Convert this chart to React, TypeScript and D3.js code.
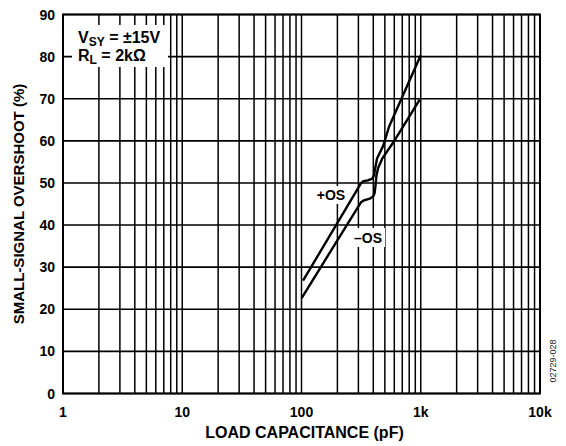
import React, { useRef, useEffect } from 'react'
import * as d3 from 'd3'

// values (load capacitance pF, overshoot %)
const plusOS: [number, number][] = [
  [103, 26.8], [315, 49.9], [330, 50.4], [360, 50.6], [392, 51.0], [405, 51.8],
  [415, 53.5], [430, 55.8], [484, 58.8], [543, 63.4], [1000, 80.3],
]
const minusOS: [number, number][] = [
  [100, 22.6], [315, 45.4], [335, 45.9], [370, 46.2], [399, 46.8], [410, 47.6],
  [418, 49.5], [425, 51.8], [440, 53.6], [478, 55.9], [607, 60.2], [980, 69.8],
]
const xTickValues = [1, 10, 100, 1000, 10000]
const xTickLabels = ['1', '10', '100', '1k', '10k']
const yTickValues = [0, 10, 20, 30, 40, 50, 60, 70, 80, 90]

const width = 566
const height = 446
const margin = { top: 14.5, right: 26, bottom: 52.5, left: 63 }
const font = 'Liberation Sans, Arial, Helvetica, sans-serif'

const App = () => {
  const svgRef = useRef<SVGSVGElement>(null)

  useEffect(() => {
    const svg = d3.select(svgRef.current)
    svg.selectAll('*').remove()

    const x = d3.scaleLog().domain([1, 10000]).range([margin.left, width - margin.right])
    const y = d3.scaleLinear().domain([0, 90]).range([height - margin.bottom, margin.top])

    // minor + major vertical grid
    const vGrid: number[] = []
    for (let k = 0; k < 4; k++) for (let m = 1; m < 10; m++) vGrid.push(m * Math.pow(10, k))
    svg.append('g')
      .selectAll('line')
      .data(vGrid)
      .join('line')
      .attr('x1', d => x(d)).attr('x2', d => x(d))
      .attr('y1', y(0)).attr('y2', y(90))
      .attr('stroke', '#000')
      .attr('stroke-width', 1.5)

    svg.append('g')
      .selectAll('line')
      .data(yTickValues)
      .join('line')
      .attr('x1', x(1)).attr('x2', x(10000))
      .attr('y1', d => y(d)).attr('y2', d => y(d))
      .attr('stroke', '#000')
      .attr('stroke-width', 1.6)

    // frame
    svg.append('rect')
      .attr('x', x(1)).attr('y', y(90))
      .attr('width', x(10000) - x(1)).attr('height', y(0) - y(90))
      .attr('fill', 'none')
      .attr('stroke', '#000')
      .attr('stroke-width', 2)

    // white label backgrounds
    svg.append('rect').attr('x', 72).attr('y', 25).attr('width', 96).attr('height', 42).attr('fill', '#fff')
    svg.append('rect').attr('x', 314).attr('y', 186).attr('width', 34).attr('height', 18).attr('fill', '#fff')
    svg.append('rect').attr('x', 352).attr('y', 228).attr('width', 33).attr('height', 19).attr('fill', '#fff')

    const line = d3.line<[number, number]>()
      .x(d => x(d[0]))
      .y(d => y(d[1]))

    for (const series of [plusOS, minusOS]) {
      svg.append('path')
        .datum(series)
        .attr('fill', 'none')
        .attr('stroke', '#000')
        .attr('stroke-width', 2.4)
        .attr('stroke-linejoin', 'round')
        .attr('d', line)
    }

    // tick labels
    svg.append('g')
      .selectAll('text')
      .data(yTickValues)
      .join('text')
      .attr('x', x(1) - 8)
      .attr('y', d => y(d))
      .attr('dy', '0.36em')
      .attr('text-anchor', 'end')
      .attr('font-family', font)
      .attr('font-weight', 'bold')
      .attr('font-size', 14)
      .text(d => d)

    svg.append('g')
      .selectAll('text')
      .data(xTickValues)
      .join('text')
      .attr('x', d => x(d))
      .attr('y', y(0) + 23.5)
      .attr('text-anchor', 'middle')
      .attr('font-family', font)
      .attr('font-weight', 'bold')
      .attr('font-size', 14)
      .text((d, i) => xTickLabels[i])

    // axis titles
    svg.append('text')
      .attr('x', (x(1) + x(10000)) / 2 + 3)
      .attr('y', 438)
      .attr('text-anchor', 'middle')
      .attr('font-family', font)
      .attr('font-weight', 'bold')
      .attr('font-size', 16)
      .text('LOAD CAPACITANCE (pF)')

    svg.append('text')
      .attr('transform', `translate(24,${(y(0) + y(90)) / 2}) rotate(-90)`)
      .attr('text-anchor', 'middle')
      .attr('font-family', font)
      .attr('font-weight', 'bold')
      .attr('font-size', 15)
      .text('SMALL-SIGNAL OVERSHOOT (%)')

    // conditions box
    const t1 = svg.append('text').attr('x', 78).attr('y', 43)
      .attr('font-family', font).attr('font-weight', 'bold').attr('font-size', 16)
    t1.append('tspan').text('V')
    t1.append('tspan').attr('font-size', 12).attr('dy', 3).text('SY')
    t1.append('tspan').attr('dy', -3).text(' = ±15V')

    const t2 = svg.append('text').attr('x', 78).attr('y', 61)
      .attr('font-family', font).attr('font-weight', 'bold').attr('font-size', 16)
    t2.append('tspan').text('R')
    t2.append('tspan').attr('font-size', 12).attr('dy', 3).text('L')
    t2.append('tspan').attr('dy', -3).text(' = 2kΩ')

    // series labels
    svg.append('text').attr('x', 331).attr('y', 200)
      .attr('text-anchor', 'middle')
      .attr('font-family', font).attr('font-weight', 'bold').attr('font-size', 14)
      .text('+OS')
    svg.append('text').attr('x', 368).attr('y', 243)
      .attr('text-anchor', 'middle')
      .attr('font-family', font).attr('font-weight', 'bold').attr('font-size', 14)
      .text('–OS')

    // figure id
    svg.append('text')
      .attr('transform', `translate(556,361) rotate(-90)`)
      .attr('text-anchor', 'middle')
      .attr('font-family', font)
      .attr('font-size', 9)
      .attr('fill', '#222')
      .text('02729-028')
  }, [])

  return (
    <svg
      ref={svgRef}
      width={width}
      height={height}
      style={{ position: 'absolute', left: 0, top: 0, background: '#fff' }}
    />
  )
}

export default App
